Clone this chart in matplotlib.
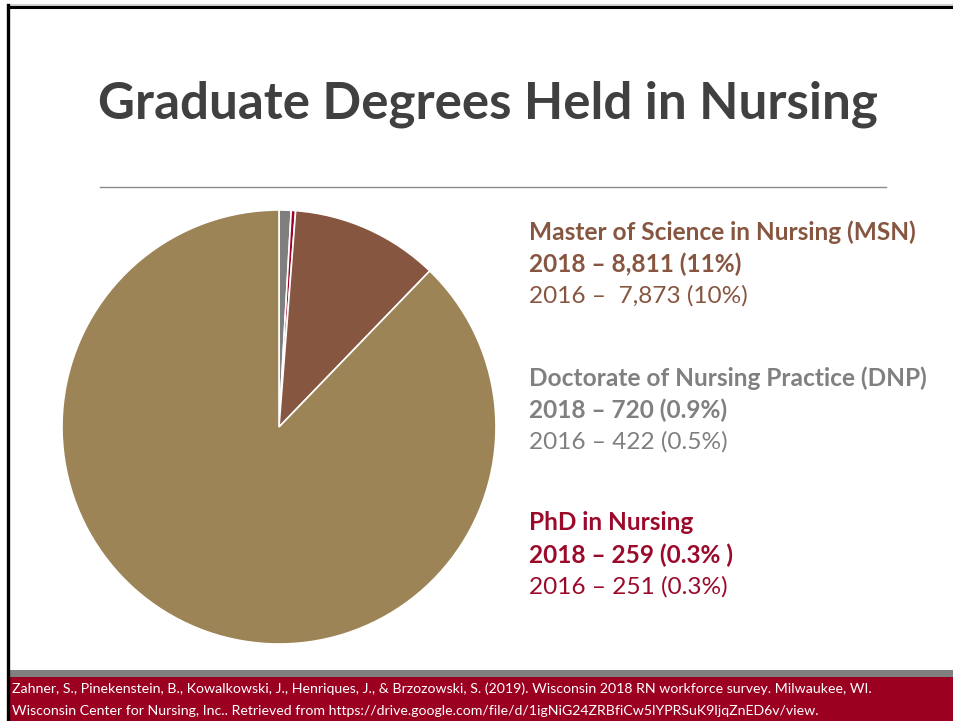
import matplotlib.pyplot as plt
from matplotlib.patches import Rectangle
from matplotlib.lines import Line2D

# --- data ---
degrees = ['Doctorate of Nursing Practice (DNP)', 'PhD in Nursing',
           'Master of Science in Nursing (MSN)', 'Other']
counts_2018 = [720, 259, 8811, 70300]   # other = rest of RN workforce (estimated)
slice_colors = ['#7f7f7f', '#a0002a', '#875640', '#9c8457']

# text blocks on the right (order as on the slide)
block_titles = ['Master of Science in Nursing (MSN)',
                'Doctorate of Nursing Practice (DNP)',
                'PhD in Nursing']
block_2018 = ['2018 \u2013 8,811 (11%)', '2018 \u2013 720 (0.9%)', '2018 \u2013 259 (0.3% )']
block_2016 = ['2016 \u2013  7,873 (10%)', '2016 \u2013 422 (0.5%)', '2016 \u2013 251 (0.3%)']
block_colors = ['#875640', '#808080', '#9b0a2b']

title = 'Graduate Degrees Held in Nursing'
source_lines = [
    'Zahner, S., Pinekenstein, B., Kowalkowski, J., Henriques, J., & Brzozowski, S. (2019). '
    'Wisconsin 2018 RN workforce survey. Milwaukee, WI.',
    'Wisconsin Center for Nursing, Inc.. Retrieved from '
    'https://drive.google.com/file/d/1igNiG24ZRBfiCw5lYPRSuK9ljqZnED6v/view.',
]

W, H = 954, 721
plt.rcParams['font.family'] = ['Lato', 'DejaVu Sans']

fig = plt.figure(figsize=(W / 100, H / 100), dpi=100)

# background axes in pixel coords (y down)
bg = fig.add_axes([0, 0, 1, 1])
bg.set_xlim(0, W)
bg.set_ylim(H, 0)
bg.axis('off')

# slide frame
bg.add_line(Line2D([8, W], [4.5, 4.5], color='#c8c8c8', lw=1.2))
bg.add_line(Line2D([8, W], [6.5, 6.5], color='black', lw=2.2))
bg.add_line(Line2D([8, 8], [5, H], color='black', lw=2.4))

# title and rule
bg.text(488, 104, title, fontsize=36.8, fontweight='bold', color='#404040',
        ha='center', va='center')
bg.add_line(Line2D([100, 886], [187, 187], color='#8c8c8c', lw=1.0))

# footer
bg.add_patch(Rectangle((9.5, 670), W, 7, color='#808080', lw=0))
bg.add_patch(Rectangle((9.5, 677), W, 44, color='#9b0020', lw=0))
for i, line in enumerate(source_lines):
    bg.text(12, 689 + i * 22, line, fontsize=10.2, color='white',
            ha='left', va='center')

# right side text blocks
x0 = 529
tops = [232, 378, 523]
for top, t, a, b, c in zip(tops, block_titles, block_2018, block_2016, block_colors):
    bg.text(x0, top, t, fontsize=17.6, fontweight='bold', color=c, va='center')
    bg.text(x0, top + 32, a, fontsize=17.6, fontweight='bold', color=c, va='center')
    bg.text(x0, top + 64, b, fontsize=17.6, color=c, va='center')

# pie
cx, cy, r = 279, 427, 217
pax = fig.add_axes([(cx - r) / W, (H - cy - r) / H, 2 * r / W, 2 * r / H])
pax.pie(counts_2018, colors=slice_colors, startangle=90, counterclock=False,
        radius=1, wedgeprops=dict(edgecolor='white', linewidth=1.2))
pax.set_xlim(-1, 1)
pax.set_ylim(-1, 1)
pax.set_aspect('equal')
pax.axis('off')

fig.savefig('out.png', dpi=100)
